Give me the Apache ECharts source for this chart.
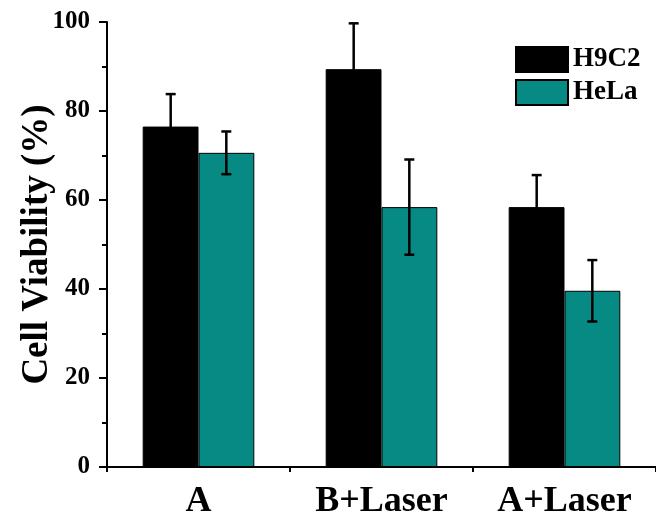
<!DOCTYPE html>
<html>
<head>
<meta charset="utf-8">
<script src="https://cdn.jsdelivr.net/npm/echarts@6/dist/echarts.min.js"></script>
<style>
html, body { margin: 0; padding: 0; background: #fff; }
#chart { width: 656px; height: 521px; }
</style>
</head>
<body>
<div id="chart"></div>
<script>
var categories = ['A', 'B+Laser', 'A+Laser'];
var seriesNames = ['H9C2', 'HeLa'];
var h9c2 = [76.5, 89.4, 58.4];
var h9c2Err = [7.3, 10.3, 7.2];
var hela = [70.6, 58.4, 39.6];
var helaErr = [4.8, 10.7, 6.9];

var font = '"Liberation Serif", "Times New Roman", serif';

// error bar drawn around a bar; shift = offset from category centre (fraction of band)
function errorSeries(vals, errs, shift) {
    var data = vals.map(function (v, i) { return [i, v - errs[i], v + errs[i]]; });
    return {
        type: 'custom',
        z: 5,
        data: data,
        renderItem: function (params, api) {
            var band = api.size([1, 0])[0];
            var lo = api.coord([api.value(0), api.value(1)]);
            var hi = api.coord([api.value(0), api.value(2)]);
            var x = lo[0] + band * shift;
            var cap = 5;
            var style = { stroke: '#000', lineWidth: 2.5 };
            return {
                type: 'group',
                children: [
                    { type: 'line', shape: { x1: x, y1: lo[1], x2: x, y2: hi[1] }, style: style },
                    { type: 'line', shape: { x1: x - cap, y1: hi[1], x2: x + cap, y2: hi[1] }, style: style },
                    { type: 'line', shape: { x1: x - cap, y1: lo[1], x2: x + cap, y2: lo[1] }, style: style }
                ]
            };
        }
    };
}

var myChart = echarts.init(document.getElementById('chart'));
var option = {
    backgroundColor: '#fff',
    animation: false,
    grid: { left: 107, width: 554, top: 22, bottom: 54 },
    legend: {
        data: seriesNames,
        orient: 'vertical',
        left: 510,
        top: 41,
        itemWidth: 52,
        itemHeight: 25,
        itemGap: 6,
        icon: 'rect',
        textStyle: { fontFamily: font, fontWeight: 'bold', fontSize: 27, lineHeight: 25, color: '#000' }
    },
    xAxis: [
        {
            type: 'category',
            data: categories,
            axisLine: { lineStyle: { color: '#000', width: 2 } },
            axisTick: { alignWithLabel: true, length: 8, lineStyle: { color: '#000', width: 2 } },
            axisLabel: { fontFamily: font, fontWeight: 'bold', fontSize: 36, color: '#000', margin: 17 }
        },
        {
            type: 'category',
            data: categories,
            position: 'bottom',
            axisLine: { show: true, lineStyle: { color: '#000', width: 2 } },
            axisTick: { show: true, length: 5, lineStyle: { color: '#000', width: 2 } },
            axisLabel: { show: false }
        }
    ],
    yAxis: {
        type: 'value',
        min: 0,
        max: 100,
        interval: 20,
        name: 'Cell Viability (%)',
        nameLocation: 'middle',
        nameGap: 51,
        nameMoveOverlap: false,
        nameTextStyle: { fontFamily: font, fontWeight: 'bold', fontSize: 37, color: '#000' },
        axisLine: { show: true, lineStyle: { color: '#000', width: 2 } },
        axisTick: { show: true, length: 8, lineStyle: { color: '#000', width: 2 } },
        minorTick: { show: true, splitNumber: 2, length: 5, lineStyle: { color: '#000', width: 2 } },
        splitLine: { show: false },
        axisLabel: { fontFamily: font, fontWeight: 'bold', fontSize: 25, color: '#000', margin: 17 }
    },
    series: [
        {
            name: 'H9C2',
            type: 'bar',
            data: h9c2,
            barGap: '0%',
            barCategoryGap: '39%',
            itemStyle: { color: '#000', borderColor: '#000', borderWidth: 1 }
        },
        {
            name: 'HeLa',
            type: 'bar',
            data: hela,
            itemStyle: { color: '#078a83', borderColor: '#000', borderWidth: 1 }
        },
        errorSeries(h9c2, h9c2Err, -0.152),
        errorSeries(hela, helaErr, 0.152)
    ]
};
myChart.setOption(option);
</script>
</body>
</html>
